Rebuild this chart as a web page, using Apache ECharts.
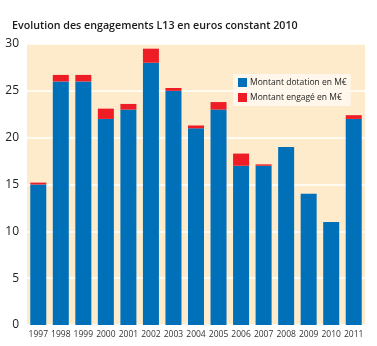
<!DOCTYPE html>
<html><head><meta charset="utf-8">
<script src="https://cdn.jsdelivr.net/npm/echarts@6/dist/echarts.min.js"></script>
<style>html,body{margin:0;padding:0;background:#fff}#c{width:377px;height:346px}</style>
</head><body><div id="c"></div>
<script>
const years = ['1997','1998','1999','2000','2001','2002','2003','2004','2005','2006','2007','2008','2009','2010','2011'];
const dotation = [15, 26, 26, 22, 23, 28, 25, 21, 23, 17, 17, 19, 14, 11, 22];
const engageExtra = [0.2, 0.7, 0.7, 1.1, 0.6, 1.5, 0.3, 0.3, 0.8, 1.3, 0.15, 0, 0, 0, 0.4];
const yTicks = [0, 5, 10, 15, 20, 25, 30];
const titleText = 'Evolution des engagements L13 en euros constant 2010';
const seriesNames = ['Montant dotation en M€', 'Montant engagé en M€'];

const chart = echarts.init(document.getElementById('c'), null, {renderer:'canvas'});
chart.setOption({
  animation: false,
  title: {text: titleText, left: 7, top: 15,
    textStyle: {fontFamily: 'Open Sans', fontSize: 10.7, fontWeight: 600, color: '#1a1a1a'}},
  grid: {left: 27, right: 12, top: 44, bottom: 21, show: true, backgroundColor: '#FDEBCC', borderWidth: 0},
  legend: {
    data: seriesNames, orient: 'vertical', left: 233, top: 74,
    itemWidth: 9, itemHeight: 9, itemGap: 6, padding: [4, 4, 4, 5],
    backgroundColor: 'rgba(255,248,238,0.9)',
    textStyle: {fontFamily: 'Open Sans', fontSize: 8.5, color: '#222', padding: [0,0,0,-2]},
    icon: 'rect'
  },
  xAxis: {type: 'category', data: years,
    axisLine: {show: false}, axisTick: {show: false},
    axisLabel: {fontFamily: 'Open Sans', fontSize: 8.5, color: '#333', margin: 5, interval: 0}},
  yAxis: {type: 'value', min: yTicks[0], max: yTicks[yTicks.length-1], interval: 5,
    axisLine: {show: false}, axisTick: {show: false},
    axisLabel: {fontFamily: 'Open Sans', fontSize: 12, color: '#222', margin: 8},
    splitLine: {lineStyle: {color: '#ffffff', width: 1.5}}},
  series: [
    {name: seriesNames[0], type: 'bar', stack: 't', data: dotation, barWidth: 16,
      itemStyle: {color: '#0070B9'}},
    {name: seriesNames[1], type: 'bar', stack: 't', data: engageExtra, barWidth: 16,
      itemStyle: {color: '#EE1C25'}}
  ]
});
</script></body></html>
